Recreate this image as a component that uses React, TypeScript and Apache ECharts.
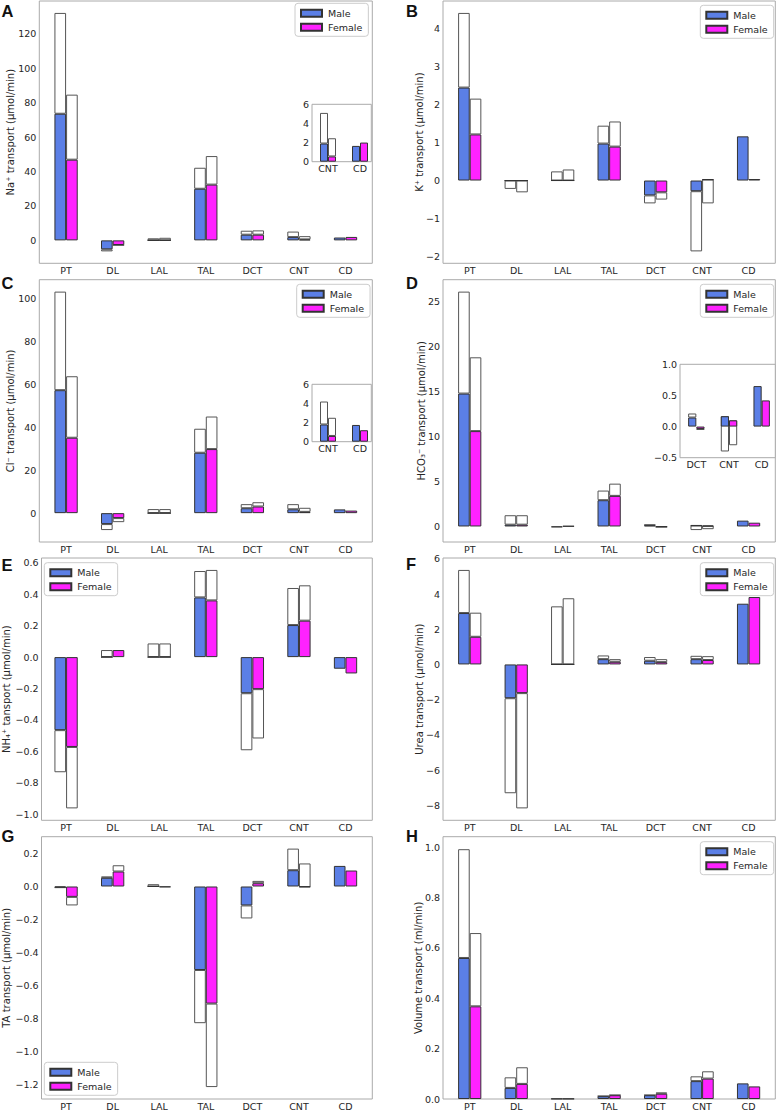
import React, { useEffect, useRef } from 'react';
import * as echarts from 'echarts';

const segments = ['PT', 'DL', 'LAL', 'TAL', 'DCT', 'CNT', 'CD'];

// A: Na+
const naMaleSup = [73.6, -5.2, 0, 30.0, 3.3, 1.9, 1.65];
const naMaleTot = [132.2, -6.4, 1.2, 42.2, 5.6, 5.1, 1.65];
const naFemSup = [46.9, -2.7, 0, 32.4, 3.3, 0.55, 2.0];
const naFemTot = [84.7, -2.9, 1.5, 49.0, 5.8, 2.45, 2.0];
// B: K+
const kMaleSup = [2.44, 0, 0, 0.97, -0.39, -0.28, 1.16];
const kMaleTot = [4.4, -0.22, 0.24, 1.44, -0.6, -1.86, 1.16];
const kFemSup = [1.21, 0, 0, 0.89, -0.31, 0.04, 0.04];
const kFemTot = [2.15, -0.31, 0.29, 1.55, -0.5, -0.6, 0.04];
// C: Cl-
const clMaleSup = [57.4, -5.1, 0, 28.2, 2.3, 1.8, 1.75];
const clMaleTot = [103.4, -7.9, 1.9, 39.4, 4.2, 4.2, 1.75];
const clFemSup = [35.2, -2.3, 0, 29.9, 3.1, 0.6, 1.2];
const clFemTot = [63.9, -4.2, 1.9, 45.1, 5.1, 2.5, 1.2];
// D: HCO3-
const hcoMaleSup = [14.77, 0.2, -0.08, 2.92, 0.145, 0.166, 0.65];
const hcoMaleTot = [26.1, 1.25, -0.08, 3.99, 0.21, -0.4, 0.65];
const hcoFemSup = [10.6, 0.2, 0.05, 3.4, -0.04, 0.1, 0.42];
const hcoFemTot = [18.8, 1.25, 0.05, 4.76, -0.05, -0.3, 0.42];
// E: NH4+
const nhMaleSup = [-0.465, 0, 0, 0.38, -0.23, 0.204, -0.074];
const nhMaleTot = [-0.733, 0.045, 0.087, 0.548, -0.593, 0.44, -0.074];
const nhFemSup = [-0.572, 0.045, 0, 0.361, -0.204, 0.232, -0.104];
const nhFemTot = [-0.963, 0.045, 0.087, 0.555, -0.518, 0.457, -0.104];
// F: Urea
const urMaleSup = [2.92, -1.92, 0, 0.3, 0.21, 0.3, 3.45];
const urMaleTot = [5.37, -7.32, 3.3, 0.51, 0.42, 0.49, 3.45];
const urFemSup = [1.57, -1.63, 0, 0.15, 0.13, 0.25, 3.83];
const urFemTot = [2.94, -8.18, 3.76, 0.3, 0.3, 0.47, 3.83];
// G: TA
const taMaleSup = [-0.005, 0.053, 0, -0.507, -0.115, 0.099, 0.125];
const taMaleTot = [-0.008, 0.061, 0.014, -0.83, -0.194, 0.23, 0.125];
const taFemSup = [-0.063, 0.091, -0.004, -0.711, 0.02, -0.004, 0.097];
const taFemTot = [-0.115, 0.129, -0.004, -1.218, 0.034, 0.14, 0.097];
// H: Volume
const vMaleSup = [0.56, 0.044, 0.001, 0.011, 0.015, 0.071, 0.062];
const vMaleTot = [0.992, 0.086, 0.001, 0.012, 0.016, 0.09, 0.062];
const vFemSup = [0.368, 0.06, 0.001, 0.015, 0.021, 0.081, 0.05];
const vFemTot = [0.659, 0.126, 0.001, 0.016, 0.026, 0.11, 0.05];

const FONT = 'DejaVu Sans';
const FS = 9.5;
const NAME_FS = 10;
const TXT = '#262626';
const BLUE = '#5b7fe6';
const MAGENTA = '#ff22ff';
const FRAME = '#aaaaaa';

const fmt = (dec: number) => (v: number) => {
  const s = Math.abs(v) < 1e-9 ? (0).toFixed(dec) : v.toFixed(dec);
  return s.replace('-', '\u2212');
};

const limits = (arrs: number[][]) => {
  const all = arrs.flat();
  const lo = Math.min(0, ...all);
  const hi = Math.max(0, ...all);
  const m = (hi - lo) * 0.05;
  return [lo >= 0 ? 0 : lo - m, hi <= 0 ? 0 : hi + m];
};

const ROWS = [1, 279.7, 558, 836.7];
const FH = 262.3;

const panels = [
  { letter: 'A', name: 'Na\u207A transport (\u03BCmol/min)', d: [naMaleSup, naMaleTot, naFemSup, naFemTot], iv: 20, dec: 0, col: 0, row: 0, gap: 24, lg: [295, 3.3], ly: 10.9 },
  { letter: 'B', name: 'K\u207A transport (\u03BCmol/min)', d: [kMaleSup, kMaleTot, kFemSup, kFemTot], iv: 1, dec: 0, col: 1, row: 0, gap: 18.5, lg: [700.3, 5.3], ly: 11.2 },
  { letter: 'C', name: 'Cl\u207B transport (\u03BCmol/min)', d: [clMaleSup, clMaleTot, clFemSup, clFemTot], iv: 20, dec: 0, col: 0, row: 1, gap: 24, lg: [296.7, 284.3], ly: 283.3 },
  { letter: 'D', name: 'HCO\u2083\u207B transport (\u03BCmol/min)', d: [hcoMaleSup, hcoMaleTot, hcoFemSup, hcoFemTot], iv: 5, dec: 0, col: 1, row: 1, gap: 17, lg: [700.3, 284.3], ly: 283.3 },
  { letter: 'E', name: 'NH\u2084\u207A tansport (\u03BCmol/min)', d: [nhMaleSup, nhMaleTot, nhFemSup, nhFemTot], iv: 0.2, dec: 1, col: 0, row: 2, gap: 30.5, lg: [44.3, 562.7], ly: 564.5 },
  { letter: 'F', name: 'Urea transport (\u03BCmol/min)', d: [urMaleSup, urMaleTot, urFemSup, urFemTot], iv: 2, dec: 0, col: 1, row: 2, gap: 18.5, lg: [700.3, 562.7], ly: 563.5 },
  { letter: 'G', name: 'TA transport (\u03BCmol/min)', d: [taMaleSup, taMaleTot, taFemSup, taFemTot], iv: 0.2, dec: 1, col: 0, row: 3, gap: 30.5, lg: [44.3, 1062.3], ly: 836 },
  { letter: 'H', name: 'Volume transport (ml/min)', d: [vMaleSup, vMaleTot, vFemSup, vFemTot], iv: 0.2, dec: 1, col: 1, row: 3, gap: 20, lg: [700.3, 841.7], ly: 836 },
];

const insets = [
  { host: 0, idx: [5, 6], frame: [312, 104.3, 59.3, 57.4], band: 32, ext: [0, 6], iv: 2, dec: 0 },
  { host: 2, idx: [5, 6], frame: [312, 384.3, 59.3, 57.4], band: 32, ext: [0, 6], iv: 2, dec: 0 },
  { host: 3, idx: [4, 5, 6], frame: [680, 364.3, 95.3, 93.4], band: 32.8, ext: [-0.5, 1.0], iv: 0.5, dec: 1 },
];

function buildOption() {
  const grid: any[] = [];
  const xAxis: any[] = [];
  const yAxis: any[] = [];
  const series: any[] = [];
  const legend: any[] = [];
  const graphic: any[] = [];

  const addBars = (gi: number, d: number[][], bw: number, key: string, z: number) => {
    const [ms, mt, fs, ft] = d;
    const pairs: [string, number[], number[], string][] = [
      ['Male', ms, mt, BLUE],
      ['Female', fs, ft, MAGENTA],
    ];
    pairs.forEach(([nm, sup, tot, color], k) => {
      const stack = key + '_' + k;
      series.push({
        type: 'bar', name: nm, xAxisIndex: gi, yAxisIndex: gi, stack, stackStrategy: 'all',
        data: sup, barWidth: bw, barGap: '0%', z: z + 1,
        itemStyle: { color, borderColor: '#333', borderWidth: 1 },
        emphasis: { disabled: true },
      });
      series.push({
        type: 'bar', name: nm + ' total', xAxisIndex: gi, yAxisIndex: gi, stack, stackStrategy: 'all',
        data: tot.map((t, i) => (Math.abs(t - sup[i]) < 1e-12 ? null : +(t - sup[i]).toFixed(6))),
        barWidth: bw, barGap: '0%', z,
        itemStyle: { color: '#ffffff', borderColor: '#555', borderWidth: 1 },
        emphasis: { disabled: true },
      });
    });
  };

  const labelStyle = { fontSize: FS, color: TXT, fontFamily: FONT };

  panels.forEach((p, pi) => {
    const fx = p.col ? 443 : 39.3;
    const fw = p.col ? 332.3 : 333;
    const fy = ROWS[p.row];
    const [mn, mx] = limits(p.d);
    const band = fw / 7.15;

    const g1 = grid.length;
    grid.push({ left: fx, top: fy, width: fw, height: FH, show: true, borderColor: FRAME, borderWidth: 1, backgroundColor: 'transparent' });
    xAxis.push({ gridIndex: g1, type: 'value', show: false, min: 0, max: 1 });
    const minIsTick = Math.abs(mn / p.iv - Math.round(mn / p.iv)) < 1e-9;
    yAxis.push({
      gridIndex: g1, type: 'value', min: mn, max: mx, minInterval: p.iv, maxInterval: p.iv, splitNumber: 6,
      axisLine: { show: false }, axisTick: { show: false }, splitLine: { show: false },
      axisLabel: { ...labelStyle, margin: 3, formatter: fmt(p.dec), showMinLabel: minIsTick, showMaxLabel: false },
      name: p.name, nameLocation: 'middle', nameGap: p.gap, nameMoveOverlap: false,
      nameTextStyle: { ...labelStyle, fontSize: NAME_FS },
    });

    const g2 = grid.length;
    grid.push({ left: fx + 0.075 * band, top: fy, width: 7 * band, height: FH, show: false });
    xAxis.push({
      gridIndex: g2, type: 'category', data: segments,
      axisLine: { show: false }, axisTick: { show: false }, splitLine: { show: false },
      axisLabel: { ...labelStyle, margin: 2, interval: 0 },
    });
    yAxis.push({ gridIndex: g2, type: 'value', min: mn, max: mx, show: false });
    addBars(g2, p.d, band * 0.25, 'p' + pi, 2);

    legend.push({
      orient: 'vertical', left: p.lg[0], top: p.lg[1], data: ['Male', 'Female'],
      icon: 'rect', itemWidth: 21, itemHeight: 7, itemGap: 4,
      padding: [5, 6, 4, 5], borderColor: '#cccccc', borderWidth: 1, borderRadius: 3,
      backgroundColor: 'rgba(255,255,255,0.85)', selectedMode: false,
      textStyle: { ...labelStyle, padding: [0, 0, 0, 1] },
    });

    graphic.push({
      type: 'text', x: p.col ? 406 : 1.5, y: p.ly,
      style: { text: p.letter, fontFamily: 'Liberation Sans', fontWeight: 'bold', fontSize: 16.5, fill: '#111', textVerticalAlign: 'middle', textAlign: 'left' },
    });
  });

  insets.forEach((ins, ii) => {
    const p = panels[ins.host];
    const [x, y, w, h] = ins.frame;
    const cats = ins.idx.map((i) => segments[i]);
    const d = p.d.map((arr) => ins.idx.map((i) => arr[i]));
    const g1 = grid.length;
    grid.push({ left: x, top: y, width: w, height: h, show: true, borderColor: FRAME, borderWidth: 1, backgroundColor: '#ffffff', z: 5 });
    xAxis.push({ gridIndex: g1, type: 'value', show: false, min: 0, max: 1 });
    yAxis.push({
      gridIndex: g1, type: 'value', min: ins.ext[0], max: ins.ext[1], interval: ins.iv,
      axisLine: { show: false }, axisTick: { show: false }, splitLine: { show: false },
      axisLabel: { ...labelStyle, margin: 3, formatter: fmt(ins.dec) },
    });
    const g2 = grid.length;
    grid.push({ left: x, top: y, width: ins.band * cats.length, height: h, show: false });
    xAxis.push({
      gridIndex: g2, type: 'category', data: cats,
      axisLine: { show: false }, axisTick: { show: false }, splitLine: { show: false },
      axisLabel: { ...labelStyle, margin: 2, interval: 0 },
    });
    yAxis.push({ gridIndex: g2, type: 'value', min: ins.ext[0], max: ins.ext[1], show: false });
    addBars(g2, d, ins.band * 0.25, 'i' + ii, 12);
  });

  return {
    animation: false,
    backgroundColor: '#ffffff',
    textStyle: { fontFamily: FONT },
    grid, xAxis, yAxis, series, legend, graphic,
  };
}

export default function App() {
  const ref = useRef<HTMLDivElement>(null);
  useEffect(() => {
    if (!ref.current) return;
    const chart = echarts.init(ref.current, undefined, { renderer: 'svg' });
    chart.setOption(buildOption() as any);
    return () => chart.dispose();
  }, []);
  return <div ref={ref} style={{ position: 'absolute', left: 0, top: 0, width: 778, height: 1111 }} />;
}
